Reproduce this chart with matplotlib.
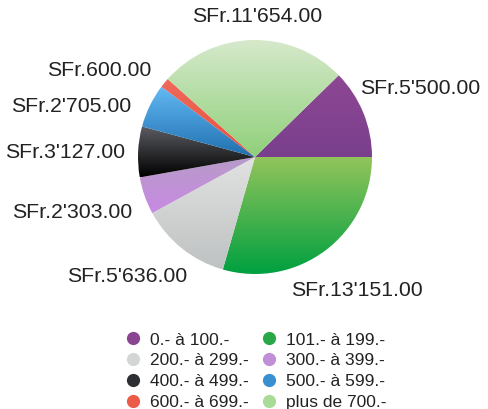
import matplotlib
matplotlib.use("Agg")
import matplotlib.pyplot as plt
import numpy as np
from matplotlib.colors import LinearSegmentedColormap
from matplotlib.lines import Line2D

plt.rcParams['font.family'] = ['Liberation Sans', 'DejaVu Sans']

# data
ranges = ["0.- à 100.-", "101.- à 199.-", "200.- à 299.-", "300.- à 399.-",
          "400.- à 499.-", "500.- à 599.-", "600.- à 699.-", "plus de 700.-"]
amounts = [5500.00, 13151.00, 5636.00, 2303.00, 3127.00, 2705.00, 600.00, 11654.00]
amount_labels = ["SFr.5'500.00", "SFr.13'151.00", "SFr.5'636.00", "SFr.2'303.00",
                 "SFr.3'127.00", "SFr.2'705.00", "SFr.600.00", "SFr.11'654.00"]

# gradient colours per slice (top, bottom)
grad_top = ["#8e4793", "#93c45c", "#e2e2e2", "#b79cc8", "#5c5d63", "#63baf5", "#f06a5a", "#d6e9cb"]
grad_bot = ["#793f8d", "#00a040", "#bfc2c2", "#c889e2", "#000000", "#1f6fae", "#e8503f", "#8fd07a"]
legend_cols = ["#8a4592", "#2aa848", "#d4d5d5", "#c08fd8", "#2e2f33", "#3a8fd0", "#ec5a48", "#a9db98"]

# label centres in pixel coords (x, y from top)
label_pos = [(420, 88), (357, 291), (127, 277), (72, 213),
             (65, 153), (71, 107), (99, 71), (257, 17)]

W, H = 488, 409
cx, cy, R = 255, 157, 117

fig = plt.figure(figsize=(W / 100, H / 100), dpi=100)
ax = fig.add_axes([0, 0, 1, 1])

total = sum(amounts)
start = 360.0 * amounts[0] / total
wedges, _ = ax.pie(amounts, startangle=start, counterclock=False,
                   center=(cx, H - cy), radius=R, frame=True,
                   wedgeprops=dict(linewidth=0))
ax.set_xlim(0, W)
ax.set_ylim(0, H)
ax.set_aspect('equal')
ax.axis('off')

grad = np.linspace(0, 1, 256).reshape(-1, 1)
for i, w in enumerate(wedges):
    w.set_facecolor('none')
    bb = w.get_path().transformed(w.get_patch_transform()).get_extents()
    cmap = LinearSegmentedColormap.from_list('g%d' % i, [grad_top[i], grad_bot[i]])
    im = ax.imshow(grad, cmap=cmap, aspect='auto',
                   extent=[bb.x0, bb.x1, bb.y0, bb.y1], origin='upper',
                   interpolation='bilinear', zorder=1)
    im.set_clip_path(w)

for lab, (px, py) in zip(amount_labels, label_pos):
    ax.text(px, H - py, lab, ha='center', va='center', fontsize=15.3, color='#222222')

handles = [Line2D([], [], marker='o', linestyle='none', markersize=9.5,
                  markerfacecolor=c, markeredgewidth=0) for c in legend_cols]
order = [0, 2, 4, 6, 1, 3, 5, 7]
ax.legend([handles[k] for k in order], [ranges[k] for k in order],
          ncol=2, loc='center', bbox_to_anchor=(256 / W, 1 - 371 / H),
          frameon=False, fontsize=12.5, handlelength=0.8, handletextpad=0.6,
          columnspacing=0.75, labelspacing=0.32, labelcolor='#222222')

fig.savefig('out.png', dpi=100)
